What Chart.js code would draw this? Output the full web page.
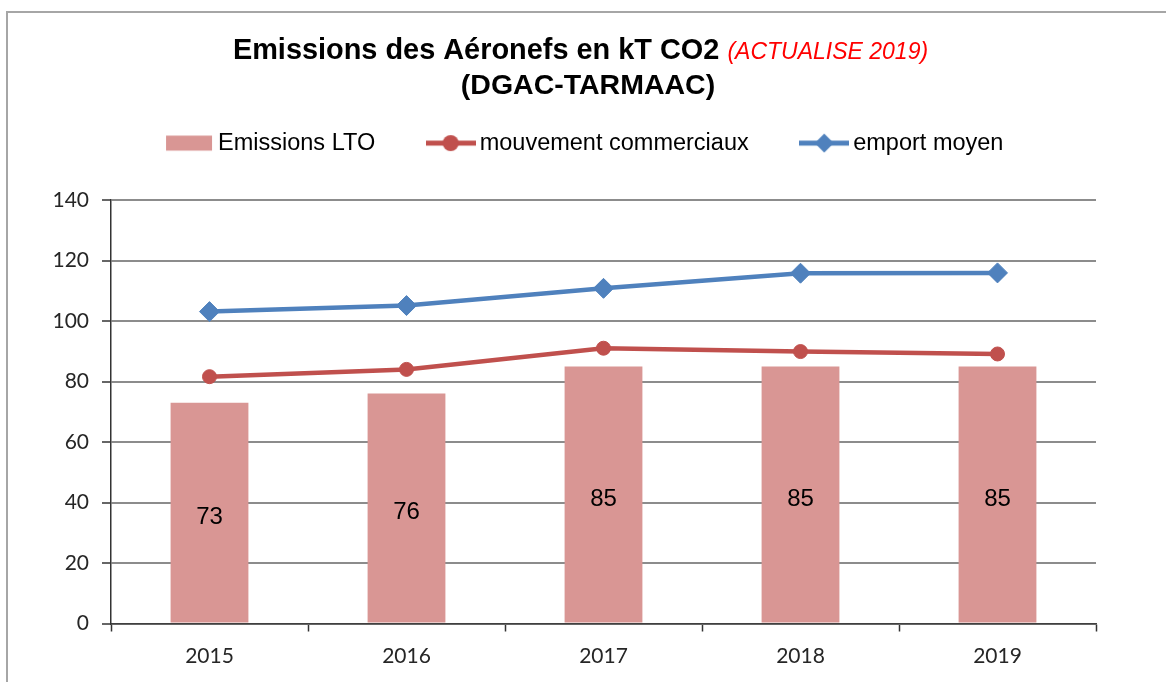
<!DOCTYPE html>
<html>
<head>
<meta charset="utf-8">
<script src="https://cdn.jsdelivr.net/npm/chart.js@4/dist/chart.umd.min.js"></script>
<style>
  body { margin: 0; background: #fff; overflow: hidden; }
  #wrap { position: relative; width: 1166px; height: 682px; }
  #frame { position: absolute; left: 6px; top: 11px; width: 1200px; height: 700px; border: 2px solid #a6a6a6; }
  #c { position: absolute; left: 0; top: 0; }
</style>
</head>
<body>
<div id="wrap">
  <div id="frame"></div>
  <canvas id="c" width="1166" height="682"></canvas>
</div>
<script>
// data
const years = ['2015', '2016', '2017', '2018', '2019'];
const emissionsLTO = [73, 76, 85, 85, 85];
const mouvements = [81.6, 84, 91, 89.9, 89.1];
const emport = [103.1, 105.1, 110.8, 115.8, 115.9];
const yMin = 0, yMax = 140, yStep = 20;

const seriesNames = ['Emissions LTO', 'mouvement commerciaux', 'emport moyen'];
const colBar = '#d99694';
const colRed = '#c0504d';
const colBlue = '#4f81bd';

// little legend samples (box, line + marker)
function sample(kind, color) {
    const c = document.createElement('canvas');
    c.width = 50; c.height = 20;
    const g = c.getContext('2d');
    g.fillStyle = color;
    g.strokeStyle = color;
    if (kind === 'box') {
        g.fillRect(2, 2.5, 46, 15);
    } else {
        g.lineWidth = 5;
        g.beginPath(); g.moveTo(0, 10); g.lineTo(50, 10); g.stroke();
        g.beginPath();
        if (kind === 'circle') {
            g.arc(25, 10, 8, 0, Math.PI * 2);
        } else {
            g.moveTo(25, 0.5); g.lineTo(34.5, 10); g.lineTo(25, 19.5); g.lineTo(15.5, 10); g.closePath();
        }
        g.fill();
    }
    return c;
}
const samples = [sample('box', colBar), sample('circle', colRed), sample('diamond', colBlue)];

const titlePlugin = {
    id: 'titleBlock',
    afterDraw(chart) {
        const ctx = chart.ctx;
        ctx.save();
        ctx.textBaseline = 'alphabetic';
        ctx.textAlign = 'left';
        const part1 = 'Emissions des Aéronefs en kT CO2 ';
        const part2 = '(ACTUALISE 2019)';
        const f1 = 'bold 28.9px "Liberation Sans", Arial, sans-serif';
        const f2 = 'italic 23px "Liberation Sans", Arial, sans-serif';
        ctx.font = f1;
        const w1 = ctx.measureText(part1).width;
        ctx.font = f2;
        const w2 = ctx.measureText(part2).width;
        let x = 580.5 - (w1 + w2) / 2;
        ctx.font = f1;
        ctx.fillStyle = '#000';
        ctx.fillText(part1, x, 58.5);
        ctx.font = f2;
        ctx.fillStyle = '#ff0000';
        ctx.fillText(part2, x + w1, 58.5);
        ctx.font = 'bold 28.5px "Liberation Sans", Arial, sans-serif';
        ctx.fillStyle = '#000';
        ctx.textAlign = 'center';
        ctx.fillText('(DGAC-TARMAAC)', 588, 93.5);
        ctx.restore();
    }
};

const barLabels = {
    id: 'barLabels',
    afterDatasetsDraw(chart) {
        const ctx = chart.ctx;
        const meta = chart.getDatasetMeta(0);
        ctx.save();
        ctx.font = '24px "Liberation Sans", Arial, sans-serif';
        ctx.fillStyle = '#000';
        ctx.textAlign = 'center';
        ctx.textBaseline = 'middle';
        meta.data.forEach((bar, i) => {
            ctx.fillText(String(emissionsLTO[i]), bar.x, (bar.y + bar.base) / 2 + 4.5);
        });
        ctx.restore();
    }
};

new Chart(document.getElementById('c'), {
    type: 'bar',
    data: {
        labels: years,
        datasets: [{
            label: seriesNames[0],
            data: emissionsLTO,
            backgroundColor: colBar,
            borderWidth: 0,
            barPercentage: 0.395,
            categoryPercentage: 1
        }, {
            type: 'line',
            label: seriesNames[1],
            data: mouvements,
            borderColor: colRed,
            backgroundColor: colRed,
            borderWidth: 4.5,
            tension: 0,
            pointStyle: 'circle',
            pointRadius: 7,
            pointBorderWidth: 1,
            pointBackgroundColor: colRed
        }, {
            type: 'line',
            label: seriesNames[2],
            data: emport,
            borderColor: colBlue,
            backgroundColor: colBlue,
            borderWidth: 4.5,
            tension: 0,
            pointStyle: 'rectRot',
            pointRadius: 10,
            pointBorderWidth: 1,
            pointBackgroundColor: colBlue
        }]
    },
    options: {
        responsive: false,
        animation: false,
        devicePixelRatio: 1,
        layout: { padding: { top: 73.1, left: 12, right: 2.8, bottom: 0 } },
        plugins: {
            tooltip: { enabled: false },
            title: { display: false },
            // empty spacer between legend and plot
            subtitle: {
                display: true,
                text: '',
                weight: 500,
                font: { size: 10 },
                padding: { top: 23.15, bottom: 0 }
            },
            legend: {
                position: 'top',
                labels: {
                    usePointStyle: true,
                    pointStyleWidth: 34.5,
                    padding: 58.25,
                    color: '#000',
                    font: { family: '"Liberation Sans", Arial, sans-serif', size: 23.5 },
                    generateLabels(chart) {
                        return Chart.defaults.plugins.legend.labels.generateLabels(chart)
                            .map(item => Object.assign(item, { pointStyle: samples[item.datasetIndex] }));
                    }
                }
            }
        },
        scales: {
            x: {
                offset: true,
                afterFit(s) { s.height = 58.5; },
                grid: {
                    offset: true,
                    drawOnChartArea: false,
                    drawTicks: true,
                    tickLength: 8,
                    tickColor: '#333',
                    tickWidth: 1.5
                },
                border: { display: true, color: '#404040', width: 1.5 },
                ticks: {
                    color: '#262626',
                    padding: 12,
                    font: { family: 'Lato, sans-serif', size: 21 }
                }
            },
            y: {
                min: yMin,
                max: yMax,
                afterFit(s) { s.width = 99; },
                grid: {
                    color: '#8c8c8c',
                    lineWidth: 2,
                    tickColor: '#333',
                    tickWidth: 1.5,
                    tickLength: 9
                },
                border: { display: true, color: '#333', width: 1.5 },
                ticks: {
                    stepSize: yStep,
                    color: '#262626',
                    padding: 13,
                    font: { family: 'Lato, sans-serif', size: 21 }
                }
            },
            // empty right margin box so the legend stays centred like the original
            yRight: {
                position: 'right',
                afterFit(s) { s.width = 67.2; },
                grid: { display: false },
                border: { display: false },
                ticks: { display: false }
            }
        }
    },
    plugins: [titlePlugin, barLabels]
});
</script>
</body>
</html>
